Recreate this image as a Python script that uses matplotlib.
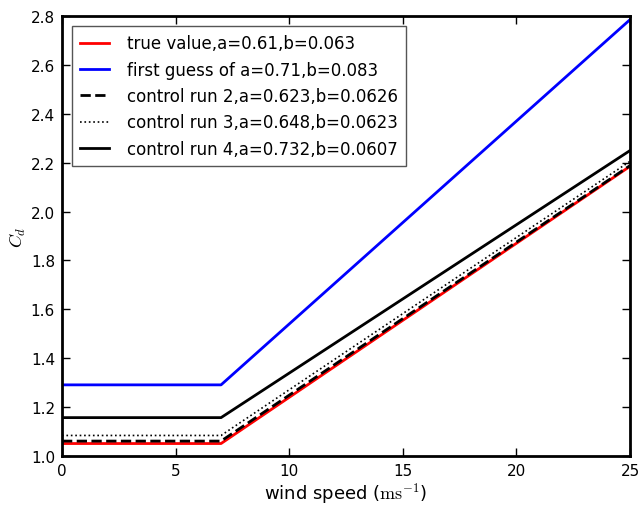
import matplotlib
matplotlib.use("Agg")
import matplotlib.pyplot as plt

wind = [0, 7, 25]
true_val = [1.051, 1.051, 2.185]
first_guess = [1.291, 1.291, 2.785]
run2 = [1.061, 1.061, 2.188]
run3 = [1.084, 1.084, 2.2055]
run4 = [1.157, 1.157, 2.2495]

labels = [
    "true value,a=0.61,b=0.063",
    "first guess of a=0.71,b=0.083",
    "control run 2,a=0.623,b=0.0626",
    "control run 3,a=0.648,b=0.0623",
    "control run 4,a=0.732,b=0.0607",
]

plt.rcParams['font.family'] = ['DejaVu Sans']
plt.rcParams['mathtext.fontset'] = 'cm'
plt.rcParams['font.size'] = 12

fig = plt.figure(figsize=(6.4, 5.06), dpi=100)
ax = fig.add_axes([62/640, 1 - 457/506, (630-62)/640, (457-17)/506])

ax.plot(wind, true_val, color='red', lw=2, label=labels[0])
ax.plot(wind, first_guess, color='blue', lw=2, label=labels[1])
ax.plot(wind, run2, color='black', lw=2, ls='--', label=labels[2])
ax.plot(wind, run3, color='black', lw=1.2, ls=':', label=labels[3])
ax.plot(wind, run4, color='black', lw=2, label=labels[4])

ax.set_xlim(0, 25)
ax.set_ylim(1.0, 2.8)
ax.set_xticks([0, 5, 10, 15, 20, 25])
ax.set_yticks([1.0, 1.2, 1.4, 1.6, 1.8, 2.0, 2.2, 2.4, 2.6, 2.8])
ax.tick_params(direction='in', top=True, right=True, length=6, width=1, labelsize=11, pad=5)
for s in ax.spines.values():
    s.set_linewidth(2)

ax.set_xlabel(r"wind speed ($\mathrm{ms^{-1}}$)", fontsize=13, labelpad=2)
ax.set_ylabel(r"$C_d$", fontsize=13, labelpad=2)

leg = ax.legend(loc='upper left', fontsize=12, fancybox=False, framealpha=1,
                edgecolor='#555555', handlelength=1.7, handletextpad=1.1,
                borderaxespad=0.6, labelspacing=0.5, borderpad=0.5)
leg.get_frame().set_linewidth(1)

fig.savefig("out.png", dpi=100)
